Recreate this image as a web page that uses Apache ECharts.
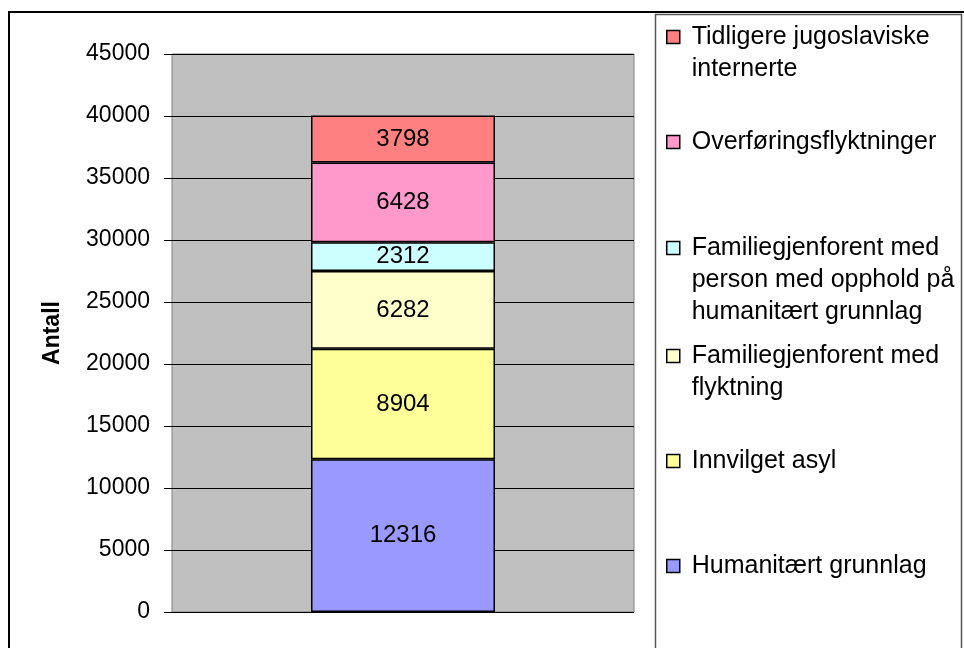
<!DOCTYPE html>
<html>
<head>
<meta charset="utf-8">
<script src="https://cdn.jsdelivr.net/npm/echarts@6/dist/echarts.min.js"></script>
<style>
  html, body { margin: 0; padding: 0; background: #fff; }
  #chart { width: 964px; height: 648px; }
</style>
</head>
<body>
<div id="chart"></div>
<script>
// data, bottom to top of the stack
const categories = ['']
const seriesNames = [
  'Humanitært grunnlag',
  'Innvilget asyl',
  'Familiegjenforent med flyktning',
  'Familiegjenforent med person med opphold på humanitært grunnlag',
  'Overføringsflyktninger',
  'Tidligere jugoslaviske internerte'
]
const seriesValues = [12316, 8904, 6282, 2312, 6428, 3798]
const seriesColors = ['#9999FF', '#FFFF99', '#FFFFCC', '#CCFFFF', '#FF99CC', '#FF8080']
// how the legend text wraps, as in the original
const legendLines = [
  ['Humanitært grunnlag'],
  ['Innvilget asyl'],
  ['Familiegjenforent med', 'flyktning'],
  ['Familiegjenforent med', 'person med opphold på', 'humanitært grunnlag'],
  ['Overføringsflyktninger'],
  ['Tidligere jugoslaviske', 'internerte']
]
const yTicks = [0, 5000, 10000, 15000, 20000, 25000, 30000, 35000, 40000, 45000]

const font = 'Liberation Sans, Arial, sans-serif'
const LH = 32
// symbol centre y for each legend entry
const legendY = [566, 461, 356, 248, 142, 37]

const chart = echarts.init(document.getElementById('chart'))

// one legend per entry so the spacing can follow the original;
// blank lines in front keep the first text line level with the symbol
const legends = seriesNames.map((name, i) => {
  const n = legendLines[i].length
  const text = '\n'.repeat(n - 1) + legendLines[i].map(s => ' ' + s).join('\n')
  return {
    orient: 'vertical',
    left: 666,
    top: legendY[i] - (2 * n - 1) * LH / 2,
    padding: 0,
    itemWidth: 13,
    itemHeight: 13,
    itemGap: 0,
    icon: 'rect',
    selectedMode: false,
    data: [name],
    formatter: () => text,
    itemStyle: { borderColor: '#000', borderWidth: 1.5 },
    textStyle: {
      fontFamily: font,
      fontSize: 25,
      color: '#000',
      lineHeight: LH
    }
  }
})

const series = seriesNames.map((name, i) => ({
  name: name,
  type: 'bar',
  stack: 'total',
  barWidth: 184,
  data: [seriesValues[i]],
  itemStyle: { color: seriesColors[i], borderColor: '#000', borderWidth: 1.5 },
  label: {
    show: true,
    position: 'inside',
    color: '#000',
    fontFamily: font,
    fontSize: 24
  }
}))

chart.setOption({
  animation: false,
  backgroundColor: '#fff',
  color: seriesColors,
  grid: {
    left: 172,
    top: 54,
    right: 330,
    bottom: 36,
    show: true,
    backgroundColor: '#C0C0C0',
    borderColor: '#808080',
    borderWidth: 1
  },
  legend: legends,
  xAxis: {
    type: 'category',
    data: categories,
    axisLine: { show: false },
    axisTick: { show: false },
    axisLabel: { show: false }
  },
  yAxis: {
    type: 'value',
    min: yTicks[0],
    max: yTicks[yTicks.length - 1],
    interval: 5000,
    name: 'Antall',
    nameLocation: 'middle',
    nameGap: 108,
    nameRotate: 90,
    nameTextStyle: { fontFamily: font, fontSize: 23, fontWeight: 'bold', color: '#000' },
    axisLine: { show: false },
    axisTick: { show: true, length: 8, lineStyle: { color: '#000', width: 1 } },
    axisLabel: { fontFamily: font, fontSize: 23, color: '#000', margin: 22, formatter: v => String(v) },
    splitLine: { show: true, lineStyle: { color: '#000', width: 1 } }
  },
  graphic: [
    {
      type: 'rect',
      shape: { x: 9, y: 12, width: 1000, height: 700 },
      style: { fill: null, stroke: '#000', lineWidth: 2 },
      silent: true,
      z: 0
    },
    {
      type: 'rect',
      shape: { x: 655.5, y: 14.5, width: 306, height: 700 },
      style: { fill: null, stroke: '#555', lineWidth: 1.5 },
      silent: true,
      z: 0
    }
  ],
  series: series
})
</script>
</body>
</html>
